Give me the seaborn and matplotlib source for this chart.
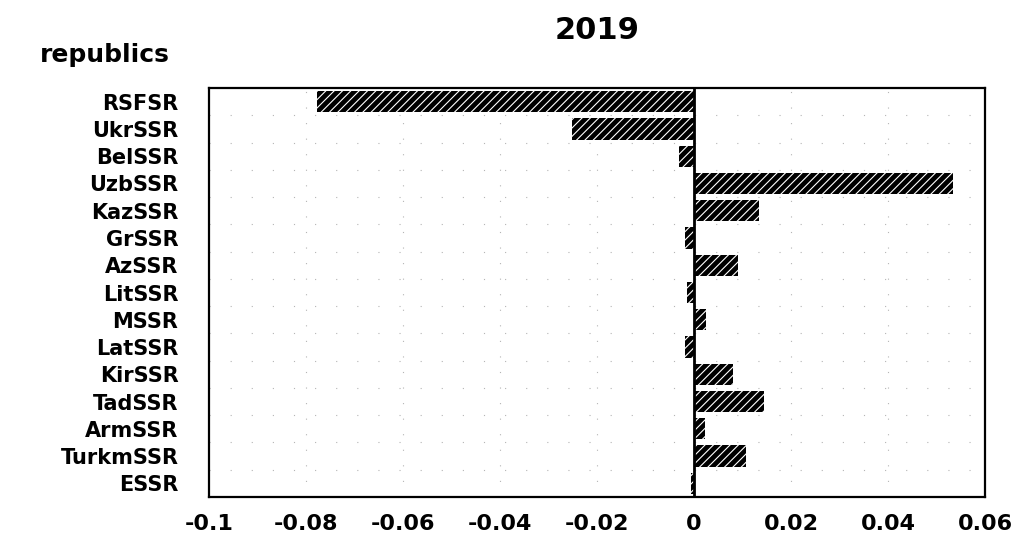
import numpy as np
import pandas as pd
import matplotlib
matplotlib.use("Agg")
import matplotlib.pyplot as plt
import seaborn as sns

republics = ["RSFSR", "UkrSSR", "BelSSR", "UzbSSR", "KazSSR", "GrSSR", "AzSSR",
             "LitSSR", "MSSR", "LatSSR", "KirSSR", "TadSSR", "ArmSSR", "TurkmSSR", "ESSR"]
values = [-0.0777, -0.0252, -0.0031, 0.0535, 0.0134, -0.0019, 0.0091,
          -0.0014, 0.0025, -0.0018, 0.0080, 0.0144, 0.0023, 0.0107, -0.0007]
xticks = [-0.1, -0.08, -0.06, -0.04, -0.02, 0, 0.02, 0.04, 0.06]
xtick_labels = ["-0.1", "-0.08", "-0.06", "-0.04", "-0.02", "0", "0.02", "0.04", "0.06"]

df = pd.DataFrame({"republic": republics, "value": values})

sns.set_style("white")
plt.rcParams["font.family"] = ["DejaVu Sans"]
plt.rcParams["hatch.linewidth"] = 0.8
plt.rcParams["text.color"] = "black"
plt.rcParams["xtick.color"] = "black"
plt.rcParams["ytick.color"] = "black"

fig = plt.figure(figsize=(10.31, 5.37), dpi=100)
ax = fig.add_axes([0.2027, 0.0745, 0.7527, 0.7616])

sns.barplot(data=df, x="value", y="republic", orient="h", color="black",
            width=0.78, saturation=1, ax=ax)
for p in ax.patches:
    p.set_facecolor("black")
    p.set_edgecolor("white")
    p.set_hatch("////")
    p.set_linewidth(0)

ax.set_xlim(-0.1, 0.06)
ax.set_ylim(len(republics) - 0.5, -0.5)
ax.axvline(0, color="black", lw=2, zorder=3)

# faint dotted grid
for xv in xticks[1:-1]:
    ax.axvline(xv, color="#b5b5b5", lw=0.8, ls=(0, (1, 13)), zorder=0)
for yv in np.arange(0.5, len(republics) - 1, 1):
    ax.axhline(yv, color="#b5b5b5", lw=0.8, ls=(0, (1, 18)), zorder=0)

ax.set_xticks(xticks)
ax.set_xticklabels(xtick_labels, fontsize=16, fontweight="bold")
ax.set_yticks(range(len(republics)))
ax.set_yticklabels(republics, fontsize=15, fontweight="bold")
ax.tick_params(axis="x", direction="in", length=7, width=1.3, pad=12, colors="black")
ax.tick_params(axis="y", direction="in", length=9, width=1.3, pad=22, colors="black")
ax.set_xlabel("")
ax.set_ylabel("")
for s in ax.spines.values():
    s.set_visible(True)
    s.set_color("black")
    s.set_linewidth(1.6)

fig.text(0.579, 0.944, "2019", ha="center", va="center", fontsize=22,
         fontweight="bold", color="black")
fig.text(0.039, 0.897, "republics", ha="left", va="center", fontsize=18,
         fontweight="bold", color="black")

fig.savefig("out.png", dpi=100, facecolor="white")
